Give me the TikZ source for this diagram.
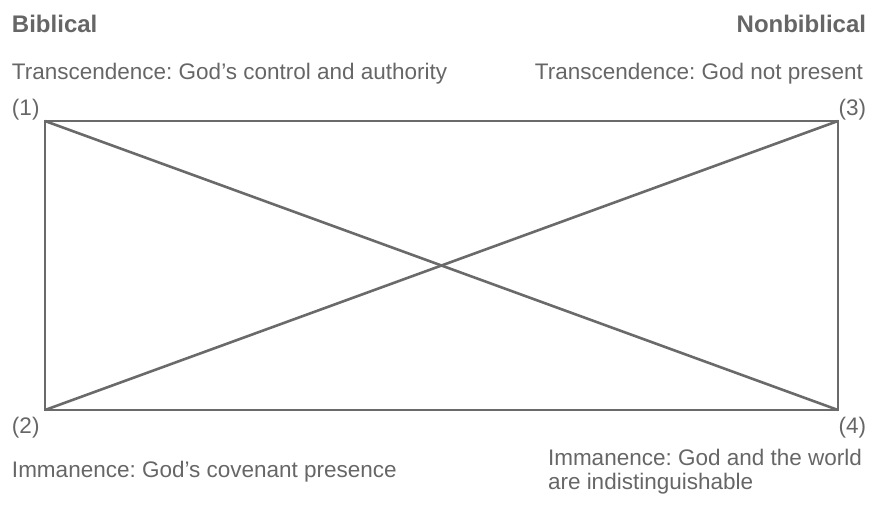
\documentclass[tikz,border=0pt]{standalone}
\usepackage{fontspec}
\setmainfont{Liberation Sans}
\frenchspacing
\definecolor{txtgray}{HTML}{666666}
\definecolor{linegray}{HTML}{6A6A6A}
\begin{document}
\begin{tikzpicture}[x=1pt,y=-1pt,
  lbl/.style={inner sep=0pt,outer sep=0pt,text=txtgray,font=\fontsize{22.5}{24}\selectfont},
  head/.style={lbl,font=\fontsize{24}{26}\selectfont\bfseries},
  frame/.style={draw=linegray,line width=2.6pt,line join=miter}]
\useasboundingbox (0,0) rectangle (869,507);
\coordinate (c1) at (45,121);
\coordinate (c3) at (838,121);
\coordinate (c2) at (45,410);
\coordinate (c4) at (838,410);
\draw[frame] (c1) -- (c3) -- (c4) -- (c2) -- cycle;
\draw[frame] (c1) -- (c4);
\draw[frame] (c2) -- (c3);
\node[head,anchor=base west] (bib) at (12,32) {Biblical};
\node[head,anchor=base east] (nonbib) at (866,32) {Nonbiblical};
\node[lbl,anchor=base west] (t1) at (12,79) {Transcendence: God’s control and authority};
\node[lbl,anchor=base east] (t3) at (863,79) {Transcendence: God not present};
\node[lbl,anchor=base west] (n1) at (12,115) {(1)};
\node[lbl,anchor=base east] (n3) at (866,115) {(3)};
\node[lbl,anchor=base west] (n2) at (12,433) {(2)};
\node[lbl,anchor=base east] (n4) at (866,433) {(4)};
\node[lbl,anchor=base west] (i2) at (12,477) {Immanence: God’s covenant presence};
\node[lbl,anchor=base west,align=left] (i4) at (548,489) {Immanence: God and the world\\are indistinguishable};
\end{tikzpicture}
\end{document}
